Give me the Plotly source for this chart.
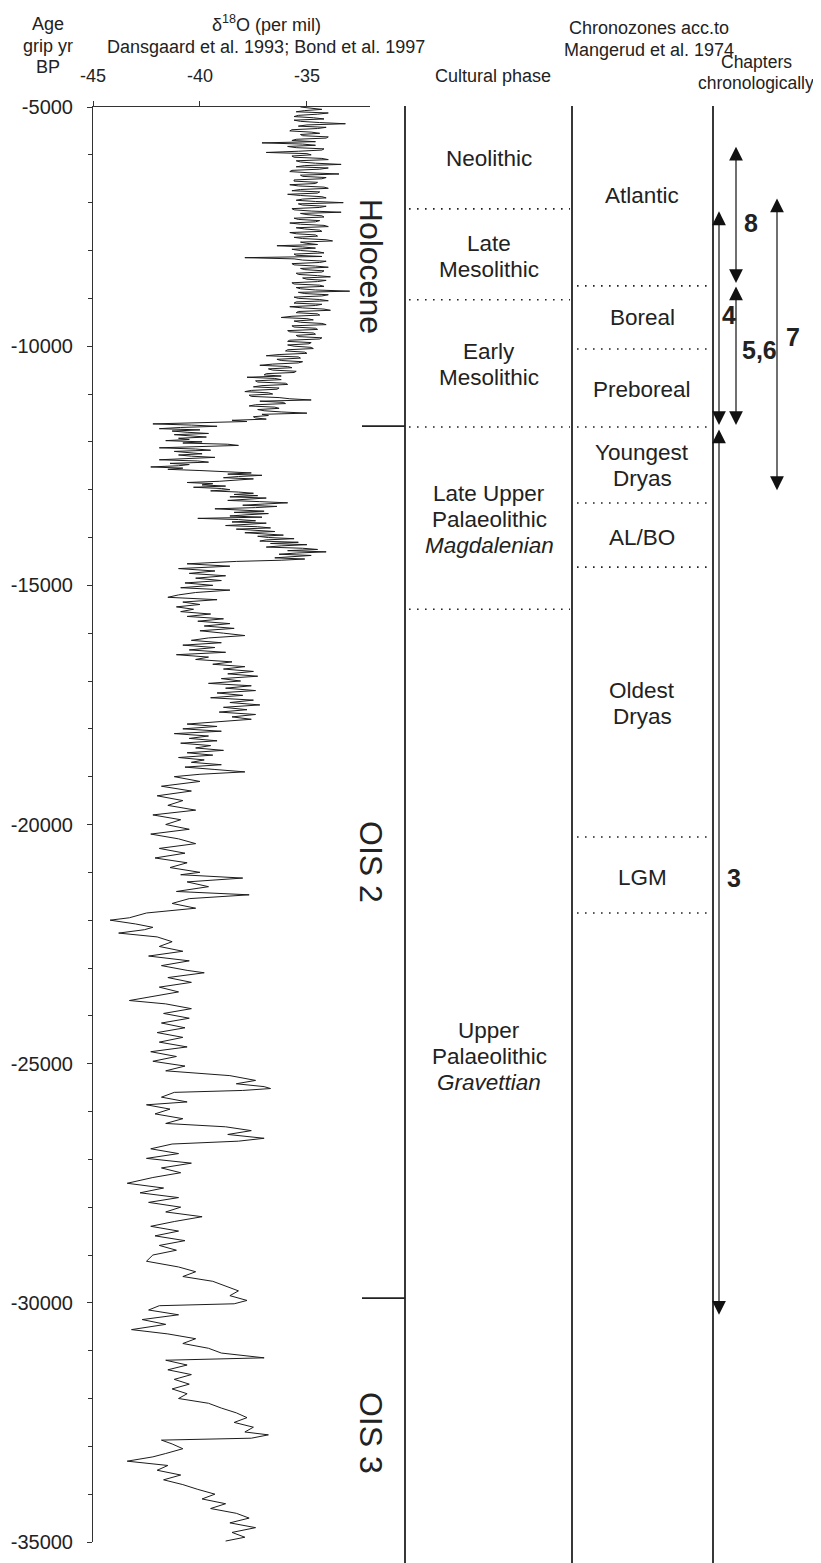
import plotly.graph_objects as go

# ---------------- DATA ----------------
age = [
# Holocene, 25-yr steps
-5000,-5025,-5050,-5075,-5100,-5125,-5150,-5175,-5200,-5225,-5250,-5275,-5300,-5325,-5350,-5375,-5400,-5425,-5450,-5475,
-5500,-5525,-5550,-5575,-5600,-5625,-5650,-5675,-5700,-5725,-5750,-5775,-5800,-5825,-5850,-5875,-5900,-5925,-5950,-5975,
-6000,-6025,-6050,-6075,-6100,-6125,-6150,-6175,-6200,-6225,-6250,-6275,-6300,-6325,-6350,-6375,-6400,-6425,-6450,-6475,
-6500,-6525,-6550,-6575,-6600,-6625,-6650,-6675,-6700,-6725,-6750,-6775,-6800,-6825,-6850,-6875,-6900,-6925,-6950,-6975,
-7000,-7025,-7050,-7075,-7100,-7125,-7150,-7175,-7200,-7225,-7250,-7275,-7300,-7325,-7350,-7375,-7400,-7425,-7450,-7475,
-7500,-7525,-7550,-7575,-7600,-7625,-7650,-7675,-7700,-7725,-7750,-7775,-7800,-7825,-7850,-7875,-7900,-7925,-7950,-7975,
-8000,-8025,-8050,-8075,-8100,-8125,-8150,-8175,-8200,-8225,-8250,-8275,-8300,-8325,-8350,-8375,-8400,-8425,-8450,-8475,
-8500,-8525,-8550,-8575,-8600,-8625,-8650,-8675,-8700,-8725,-8750,-8775,-8800,-8825,-8850,-8875,-8900,-8925,-8950,-8975,
-9000,-9025,-9050,-9075,-9100,-9125,-9150,-9175,-9200,-9225,-9250,-9275,-9300,-9325,-9350,-9375,-9400,-9425,-9450,-9475,
-9500,-9525,-9550,-9575,-9600,-9625,-9650,-9675,-9700,-9725,-9750,-9775,-9800,-9825,-9850,-9875,-9900,-9925,-9950,-9975,
-10000,-10025,-10050,-10075,-10100,-10125,-10150,-10175,-10200,-10225,-10250,-10275,-10300,-10325,-10350,-10375,-10400,-10425,-10450,-10475,
-10500,-10525,-10550,-10575,-10600,-10625,-10650,-10675,-10700,-10725,-10750,-10775,-10800,-10825,-10850,-10875,-10900,-10925,-10950,-10975,
-11000,-11025,-11050,-11075,-11100,-11125,-11150,-11175,-11200,-11225,-11250,-11275,-11300,-11325,-11350,-11375,-11400,-11425,-11450,-11475,
-11500,-11525,-11550,-11575,
# Younger Dryas to Boelling-Alleroed, 25-yr steps
-11600,-11625,-11650,-11675,-11700,-11725,-11750,-11775,-11800,-11825,-11850,-11875,-11900,-11925,-11950,-11975,-12000,-12025,-12050,-12075,
-12100,-12125,-12150,-12175,-12200,-12225,-12250,-12275,-12300,-12325,-12350,-12375,-12400,-12425,-12450,-12475,-12500,-12525,-12550,-12575,
-12600,-12625,-12650,-12675,-12700,-12725,-12750,-12775,-12800,-12825,-12850,-12875,-12900,-12925,-12950,-12975,-13000,-13025,-13050,-13075,
-13100,-13125,-13150,-13175,-13200,-13225,-13250,-13275,-13300,-13325,-13350,-13375,-13400,-13425,-13450,-13475,-13500,-13525,-13550,-13575,
-13600,-13625,-13650,-13675,-13700,-13725,-13750,-13775,-13800,-13825,-13850,-13875,-13900,-13925,-13950,-13975,-14000,-14025,-14050,-14075,
-14100,-14125,-14150,-14175,-14200,-14225,-14250,-14275,-14300,-14325,-14350,-14375,-14400,-14425,-14450,-14475,
# Oldest Dryas, 50-yr steps
-14500,-14550,-14600,-14650,-14700,-14750,-14800,-14850,-14900,-14950,-15000,-15050,-15100,-15150,-15200,-15250,-15300,-15350,-15400,-15450,
-15500,-15550,-15600,-15650,-15700,-15750,-15800,-15850,-15900,-15950,-16000,-16050,-16100,-16150,-16200,-16250,-16300,-16350,-16400,-16450,
-16500,-16550,-16600,-16650,-16700,-16750,-16800,-16850,-16900,-16950,-17000,-17050,-17100,-17150,-17200,-17250,-17300,-17350,-17400,-17450,
-17500,-17550,-17600,-17650,-17700,-17750,-17800,-17850,-17900,-17950,-18000,-18050,-18100,-18150,-18200,-18250,-18300,-18350,-18400,-18450,
-18500,-18550,-18600,-18650,-18700,-18750,-18800,-18850,-18900,-18950,
# older, coarser
-19000,-19100,-19200,-19300,-19400,-19500,-19600,-19700,-19800,-19900,-20000,-20100,-20200,-20300,-20400,-20500,-20600,-20700,-20800,-20900,
-21000,-21050,-21120,-21200,-21300,-21400,-21470,-21550,-21650,-21750,-21850,-21950,-22000,-22080,-22150,-22200,-22270,-22350,-22450,-22550,
-22650,-22750,-22850,-22950,-23050,-23100,-23200,-23300,-23400,-23500,-23600,-23680,-23750,-23850,-23950,-24050,-24150,-24250,-24350,-24450,
-24550,-24650,-24750,-24850,-24950,-25050,-25150,-25250,-25350,-25420,-25480,-25520,-25560,-25600,-25700,-25800,-25860,-25950,-26050,-26150,
-26250,-26320,-26400,-26480,-26560,-26620,-26680,-26780,-26880,-26980,-27080,-27180,-27280,-27380,-27500,-27600,-27700,-27800,-27900,-28000,
-28100,-28200,-28300,-28400,-28500,-28600,-28700,-28800,-28900,-29000,-29130,-29250,-29350,-29450,-29550,-29650,-29750,-29850,-29950,-30020,
-30060,-30150,-30250,-30350,-30450,-30560,-30650,-30750,-30850,-30950,-31050,-31150,-31200,-31300,-31400,-31500,-31600,-31700,-31800,-31900,
-32000,-32100,-32200,-32300,-32400,-32500,-32600,-32700,-32760,-32830,-32870,-32950,-33050,-33150,-33220,-33310,-33400,-33500,-33600,-33700,
-33800,-33900,-34000,-34100,-34200,-34300,-34400,-34500,-34600,-34700,-34800,-34900,-34980,
]

d18o = [
-35.3,-34.6,-34.3,-35.1,-35.5,-34.0,-34.5,-35.4,-35.6,-34.7,-34.2,-35.6,-35.3,-34.4,-33.2,-35.0,-35.4,-34.1,-34.5,-35.7,
-35.8,-34.8,-34.4,-35.3,-35.2,-34.0,-34.1,-35.5,-35.7,-34.6,-37.1,-35.2,-34.6,-35.9,-35.5,-34.2,-34.3,-35.4,-36.9,-35.0,
-34.8,-35.7,-35.6,-34.3,-34.0,-35.5,-35.3,-34.6,-33.4,-35.1,-35.5,-34.0,-34.4,-35.7,-35.8,-34.9,-33.5,-35.3,-35.2,-34.1,
-34.3,-35.6,-35.6,-34.5,-34.6,-35.8,-35.4,-34.2,-34.0,-35.3,-35.7,-34.4,-34.5,-35.9,-35.3,-34.3,-34.1,-35.2,-35.5,-34.6,
-33.3,-35.4,-35.2,-34.1,-34.4,-35.7,-35.6,-34.8,-33.4,-35.3,-35.0,-34.3,-34.2,-35.6,-35.4,-34.4,-34.6,-35.8,-35.3,-34.2,
-34.0,-35.5,-35.1,-34.4,-34.3,-35.8,-35.5,-34.6,-34.5,-35.6,-35.2,-34.1,-33.8,-35.3,-35.0,-34.5,-36.4,-35.2,-34.6,-35.7,
-35.3,-34.5,-34.2,-35.6,-35.5,-34.3,-37.9,-35.6,-35.2,-34.1,-34.4,-35.7,-35.6,-34.6,-34.0,-35.3,-35.1,-34.2,-34.3,-35.5,
-35.4,-34.5,-33.9,-35.2,-35.0,-34.1,-34.5,-35.7,-35.6,-34.4,-34.2,-35.5,-35.3,-34.6,-33.0,-35.4,-35.1,-34.0,-34.3,-35.6,
-35.4,-34.4,-34.0,-35.5,-35.6,-34.3,-34.6,-35.8,-35.2,-34.2,-33.9,-35.4,-35.5,-34.5,-34.4,-35.7,-36.2,-35.0,-34.7,-35.6,
-35.3,-34.3,-34.1,-35.7,-35.6,-34.6,-34.5,-35.9,-35.8,-34.7,-34.6,-35.5,-35.4,-34.3,-34.4,-35.8,-35.9,-34.8,-34.9,-35.9,
-35.6,-34.8,-34.7,-35.9,-36.0,-35.1,-35.0,-36.3,-36.9,-35.4,-35.3,-36.4,-36.2,-35.2,-35.4,-36.6,-37.2,-35.9,-35.7,-36.8,
-36.6,-35.5,-35.6,-36.9,-37.0,-36.2,-37.8,-36.5,-36.2,-37.4,-37.3,-36.0,-35.9,-37.1,-37.5,-36.3,-36.4,-37.6,-37.9,-36.8,
-36.6,-37.7,-37.6,-36.3,-35.8,-34.8,-37.2,-36.1,-36.0,-37.4,-37.7,-36.5,-36.3,-37.3,-37.0,-36.2,-35.0,-37.1,-36.8,-37.5,
-37.4,-36.9,-38.5,-37.8,
-41.0,-42.2,-40.4,-39.2,-40.9,-41.9,-40.0,-41.3,-40.6,-39.6,-41.2,-40.3,-39.7,-41.0,-40.5,-41.6,-39.9,-40.8,-38.7,-38.2,
-40.5,-41.9,-40.2,-39.5,-41.2,-40.7,-39.9,-41.0,-40.4,-39.3,-40.8,-41.9,-40.1,-39.6,-41.4,-40.5,-41.0,-42.3,-40.8,-41.5,
-40.0,-38.4,-37.6,-38.7,-37.1,-38.2,-38.9,-37.5,-38.3,-39.1,-40.6,-39.4,-39.9,-38.8,-40.3,-39.0,-38.6,-39.5,-38.2,-37.5,
-38.4,-37.3,-38.6,-36.9,-37.8,-38.7,-37.2,-35.9,-37.0,-38.0,-36.4,-37.4,-39.3,-37.9,-37.0,-38.4,-36.8,-37.8,-38.6,-37.1,
-40.1,-38.2,-37.4,-38.5,-36.9,-37.8,-38.8,-37.3,-36.7,-38.3,-37.6,-36.5,-37.9,-37.1,-36.1,-37.3,-36.8,-35.6,-36.9,-37.2,
-35.4,-36.7,-35.0,-36.2,-36.9,-35.2,-34.5,-35.9,-34.1,-35.5,-36.3,-34.8,-35.7,-36.5,-35.1,-36.2,
-38.3,-40.6,-38.6,-41.0,-39.3,-40.5,-38.8,-40.2,-39.0,-40.7,-39.4,-40.9,-38.6,-40.2,-41.0,-41.5,-39.2,-40.8,-40.0,-41.1,
-40.3,-40.9,-39.5,-40.6,-38.9,-40.1,-38.6,-39.8,-38.4,-40.0,-38.9,-37.9,-39.6,-40.4,-39.0,-40.8,-39.3,-40.5,-38.8,-41.1,
-39.6,-40.2,-38.5,-39.4,-37.9,-38.9,-37.5,-38.7,-37.3,-39.0,-38.1,-39.6,-37.6,-38.8,-37.4,-39.2,-38.0,-39.5,-37.5,-38.6,
-37.2,-38.9,-37.8,-39.1,-37.4,-38.5,-37.6,-39.0,-40.6,-39.2,-40.8,-39.0,-41.2,-39.6,-40.5,-39.2,-40.9,-39.5,-40.2,-38.9,
-40.6,-39.4,-41.0,-39.8,-40.4,-39.0,-40.7,-39.3,-37.9,-40.0,
-41.2,-40.0,-41.8,-40.4,-42.0,-40.8,-41.5,-40.2,-42.2,-40.9,-41.6,-40.5,-42.3,-41.0,-40.2,-41.9,-40.7,-42.1,-40.6,-41.4,
-40.0,-40.9,-38.0,-40.6,-39.6,-41.1,-37.7,-40.5,-41.3,-40.2,-42.5,-43.3,-44.2,-43.0,-42.2,-42.6,-43.8,-42.0,-41.3,-41.9,
-40.8,-42.4,-40.5,-41.8,-40.6,-39.8,-41.5,-40.4,-41.9,-41.0,-42.2,-43.3,-41.6,-40.4,-41.7,-40.5,-41.8,-40.7,-42.0,-40.8,
-41.9,-40.6,-42.3,-41.1,-42.2,-40.7,-41.6,-38.6,-37.4,-38.3,-37.0,-36.7,-38.0,-41.2,-41.8,-40.6,-42.5,-41.4,-42.1,-40.8,
-41.6,-38.8,-37.6,-38.7,-37.0,-38.2,-41.3,-42.3,-41.0,-42.5,-40.4,-41.8,-40.9,-42.2,-43.4,-41.7,-42.8,-41.0,-42.4,-40.9,
-41.6,-39.9,-41.2,-42.3,-41.0,-42.1,-40.7,-41.9,-41.1,-42.2,-42.5,-41.0,-40.2,-40.8,-39.4,-38.8,-38.2,-38.6,-37.8,-38.4,
-41.9,-42.4,-41.0,-42.7,-41.6,-43.2,-41.5,-40.2,-40.8,-39.6,-39.0,-37.0,-41.6,-40.6,-41.5,-40.4,-41.2,-40.5,-41.3,-40.6,
-41.0,-39.6,-39.0,-38.3,-37.8,-38.4,-37.5,-37.9,-36.8,-37.6,-41.8,-41.3,-40.8,-41.6,-42.2,-43.4,-41.5,-42.0,-40.9,-41.7,
-40.8,-40.1,-39.3,-39.9,-38.8,-39.5,-38.3,-37.7,-38.6,-37.4,-38.5,-37.9,-38.8,
]

x_tickvals = [-45, -40, -35]
x_ticktext = ["-45", "-40", "-35"]
y_tickvals = [-35000, -30000, -25000, -20000, -15000, -10000, -5000]
y_ticktext = ["-35000", "-30000", "-25000", "-20000", "-15000", "-10000", "-5000"]

stage_labels = ["Holocene", "OIS 2", "OIS 3"]
stage_label_age = [-8320, -20785, -32720]
stage_bounds = [-11670, -29900]

cultural_labels = ["Neolithic", "Late<br>Mesolithic", "Early<br>Mesolithic",
                   "Late Upper<br>Palaeolithic<br><i>Magdalenian</i>",
                   "Upper<br>Palaeolithic<br><i>Gravettian</i>"]
cultural_label_age = [-6070, -8115, -10390, -13615, -24860]
cultural_bounds = [-7130, -9030, -11690, -15500]

chrono_labels = ["Atlantic", "Boreal", "Preboreal", "Youngest<br>Dryas", "AL/BO",
                 "Oldest<br>Dryas", "LGM"]
chrono_label_age = [-6860, -9410, -10900, -12505, -13990, -17460, -21100]
chrono_bounds = [-8740, -10060, -11690, -13280, -14620, -20260, -21850]

chapter_labels = ["8", "5,6", "7", "4", "3"]
chapter_from = [-5800, -8720, -6880, -7150, -11710]
chapter_to = [-8680, -11650, -13010, -11650, -30250]
chapter_label_age = [-7425, -10080, -9810, -9350, -21120]

# ---------------- LAYOUT HELPERS ----------------
SCR_W, SCR_H = 821, 1563     # browser window
OFF = 8                      # page body margin
W, H = SCR_W - OFF, SCR_H - OFF
PLOT_TOP, PLOT_BOT = 107, 1542   # in window pixels


def px(xp):
    return (xp - OFF) / W


def py(yp):
    return (PLOT_BOT - yp) / (PLOT_BOT - PLOT_TOP)


FONT = "Liberation Sans, Arial, sans-serif"
INK = "#222222"

fig = go.Figure()
fig.add_trace(go.Scatter(x=d18o, y=age, mode="lines",
                         line=dict(color="#1c1c1c", width=1),
                         hoverinfo="skip", showlegend=False))

fig.update_layout(
    width=W, height=H,
    margin=dict(l=0, r=0, t=PLOT_TOP - OFF, b=SCR_H - PLOT_BOT, pad=0),
    paper_bgcolor="white", plot_bgcolor="rgba(0,0,0,0)",
    font=dict(family=FONT, color=INK),
    showlegend=False,
)
fig.update_xaxes(domain=[px(93), px(370)], range=[-45, -32.05], side="top",
                 showline=True, linecolor="#333", linewidth=1,
                 ticks="outside", ticklen=5, tickcolor="#333",
                 tickvals=x_tickvals, ticktext=x_ticktext,
                 tickfont=dict(size=18, color=INK), ticklabelstandoff=12,
                 showgrid=False, zeroline=False, automargin=False)
fig.update_yaxes(range=[-35000, -5000], showline=True, linecolor="#333", linewidth=1,
                 ticks="outside", ticklen=5, tickcolor="#333",
                 tickvals=y_tickvals, ticktext=y_ticktext,
                 tickfont=dict(size=20, color=INK), ticklabelstandoff=10,
                 minor=dict(tickmode="linear", tick0=-35000, dtick=1000, ticks="outside",
                            ticklen=4, tickcolor="#333", showgrid=False),
                 showgrid=False, zeroline=False, automargin=False)


def add_lines(text, x, y, yref, size, spacing):
    parts = text.split("<br>")
    n = len(parts)
    for i, t in enumerate(parts):
        fig.add_annotation(x=x, y=y, xref="paper", yref=yref, text=t, showarrow=False,
                           font=dict(size=size, color=INK, family=FONT),
                           xanchor="center", yanchor="middle",
                           yshift=((n - 1) / 2 - i) * spacing)


# column vertical lines
for xp in [405, 572, 713]:
    fig.add_shape(type="line", xref="paper", yref="paper", x0=px(xp), x1=px(xp),
                  y0=py(106), y1=py(SCR_H), line=dict(color=INK, width=1.8))

# stage boundaries (solid ticks)
for a in stage_bounds:
    fig.add_shape(type="line", xref="paper", yref="y", x0=px(362), x1=px(405),
                  y0=a, y1=a, line=dict(color=INK, width=1.8))

# dotted boundaries
for a in cultural_bounds:
    fig.add_shape(type="line", xref="paper", yref="y", x0=px(409), x1=px(570),
                  y0=a, y1=a, line=dict(color=INK, width=1.6, dash="1.6px,6.4px"))
for a in chrono_bounds:
    fig.add_shape(type="line", xref="paper", yref="y", x0=px(577), x1=px(711),
                  y0=a, y1=a, line=dict(color=INK, width=1.6, dash="1.6px,6.4px"))

# stage labels
for lab, a in zip(stage_labels, stage_label_age):
    fig.add_annotation(x=px(371), y=a, xref="paper", yref="y", text=lab, showarrow=False,
                       textangle=90, font=dict(size=32, color=INK, family=FONT),
                       xanchor="center", yanchor="middle")

# cultural labels
for lab, a in zip(cultural_labels, cultural_label_age):
    add_lines(lab, px(489), a, "y", 22.5, 26)

# chronozone labels
for lab, a in zip(chrono_labels, chrono_label_age):
    add_lines(lab, px(642), a, "y", 22.5, 26)

# chapter arrows
arrow_x = [736, 736, 777, 719, 719]
label_x = [751, 759, 793, 729, 734]
for lab, a0, a1, la, xa, xl in zip(chapter_labels, chapter_from, chapter_to,
                                   chapter_label_age, arrow_x, label_x):
    fig.add_annotation(x=px(xa), y=a1, xref="paper", yref="y",
                       ax=0, ay=a0, axref="pixel", ayref="y",
                       text="", showarrow=True, arrowside="end+start",
                       arrowhead=2, startarrowhead=2, arrowsize=2.3, startarrowsize=2.3,
                       arrowwidth=1.2, arrowcolor="#111")
    fig.add_annotation(x=px(xl), y=la, xref="paper", yref="y", text="<b>%s</b>" % lab,
                       showarrow=False, font=dict(size=25, color=INK, family=FONT),
                       xanchor="center", yanchor="middle")

# headers
headers = [
    ("Age<br>grip yr<br>BP", 48, 46, 21.5, 18),
    ("δ<sup>18</sup>O (per mil)<br>Dansgaard et al. 1993; Bond et al. 1997", 266, 35.5, 23, 18),
    ("Cultural phase", 493, 76, 22, 18),
    ("Chronozones acc.to<br>Mangerud et al. 1974", 649, 39, 22, 18),
    ("Chapters<br>chronologically", 756, 72.5, 21, 17.5),
]
for txt, xp, yp, sp, fs in headers:
    add_lines(txt, px(xp), py(yp), "paper", fs, sp)

fig.write_html("out.html")
